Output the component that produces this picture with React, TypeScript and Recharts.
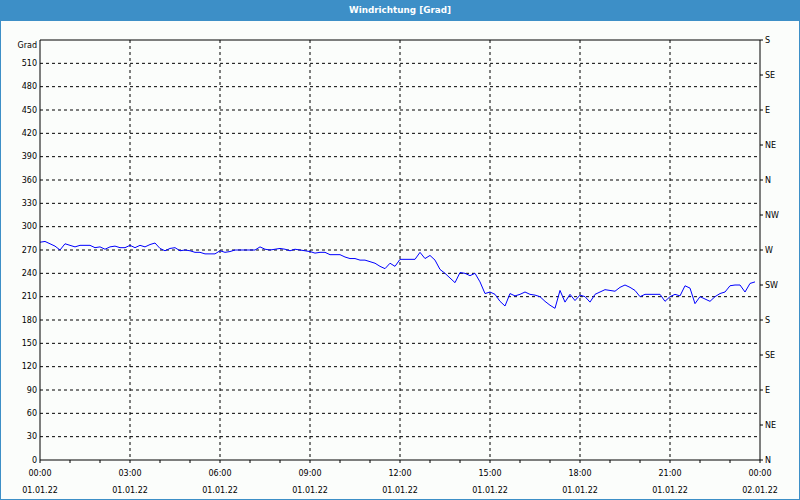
import React from "react";
import { CartesianGrid, Line, LineChart, ReferenceLine, XAxis, YAxis } from "recharts";

// Windrichtung, 10-Minuten-Werte ab 01.01.22 00:00
const windDirection = [
  280, 281, 278, 275, 270, 278, 276, 274, 276, 276, 276, 273, 274, 271, 274, 275, 273, 273, 276, 273, 276, 274, 277, 279,
  272, 269, 272, 273, 269, 270, 269, 267, 267, 265, 265, 265, 269, 267, 268, 270, 270, 270, 270, 270, 274, 271, 270, 271,
  272, 271, 269, 271, 270, 269, 268, 266, 267, 267, 264, 264, 264, 261, 259, 259, 257, 257, 255, 253, 249, 246, 253, 249,
  258, 258, 258, 258, 267, 259, 263, 257, 245, 240, 234, 228, 241, 240, 237, 240, 229, 214, 216, 213, 204, 198, 214, 211,
  213, 216, 213, 212, 210, 204, 199, 195, 218, 203, 213, 205, 212, 210, 203, 213, 216, 219, 218, 217, 222, 225, 222, 218,
  210, 213, 213, 213, 213, 204, 210, 213, 211, 224, 221, 201, 210, 207, 204, 210, 214, 216, 224, 225, 225, 216, 227, 229,
];
const stepMinutes = 10;

const gradTicks = [0, 30, 60, 90, 120, 150, 180, 210, 240, 270, 300, 330, 360, 390, 420, 450, 480, 510, 540];
const dirTicks = [0, 45, 90, 135, 180, 225, 270, 315, 360, 405, 450, 495, 540];
const dirLabels = ["N", "NE", "E", "SE", "S", "SW", "W", "NW", "N", "NE", "E", "SE", "S"];

const hourTicks = [0, 1, 2, 3, 4, 5, 6, 7, 8, 9, 10, 11, 12, 13, 14, 15, 16, 17, 18, 19, 20, 21, 22, 23, 24];
const majorHours = [0, 3, 6, 9, 12, 15, 18, 21, 24];
const timeLabels = ["00:00", "03:00", "06:00", "09:00", "12:00", "15:00", "18:00", "21:00", "00:00"];
const dateLabels = ["01.01.22", "01.01.22", "01.01.22", "01.01.22", "01.01.22", "01.01.22", "01.01.22", "01.01.22", "02.01.22"];

const data = windDirection.map((v, i) => ({ h: (i * stepMinutes) / 60, v }));

const font = "'DejaVu Sans', sans-serif";
const textStyle = { fontFamily: font, fontSize: 8, fill: "#000" };

function LeftTick({ x, y, payload }: any) {
  const top = payload.value === 540;
  return (
    <text x={x} y={y + (top ? 5 : 0)} textAnchor="end" dominantBaseline="central" style={textStyle}>
      {top ? "Grad" : payload.value}
    </text>
  );
}

function RightTick({ x, y, payload }: any) {
  const idx = dirTicks.indexOf(payload.value);
  return (
    <text x={x} y={y} textAnchor="start" dominantBaseline="central" style={textStyle}>
      {dirLabels[idx]}
    </text>
  );
}

function BottomTick({ x, y, payload }: any) {
  const idx = majorHours.indexOf(payload.value);
  if (idx < 0) return null;
  return (
    <g>
      <text x={x} y={y + 10} textAnchor="middle" dominantBaseline="central" style={textStyle}>
        {timeLabels[idx]}
      </text>
      <text x={x} y={y + 27} textAnchor="middle" dominantBaseline="central" style={textStyle}>
        {dateLabels[idx]}
      </text>
    </g>
  );
}

export default function App() {
  return (
    <div style={{ position: "fixed", left: 0, top: 0, width: 800, height: 500, background: "#fbfdfb" }}>
      <div style={{ position: "absolute", left: 0, top: 0 }}>
        <LineChart width={800} height={500} data={data} margin={{ top: 40, right: 0, bottom: 0, left: 0 }}>
          <CartesianGrid
            stroke="#000"
            strokeDasharray="3 3"
            horizontalValues={gradTicks.slice(1, -1)}
            verticalValues={majorHours.slice(1, -1)}
          />
          <XAxis
            dataKey="h"
            type="number"
            domain={[0, 24]}
            ticks={hourTicks}
            interval={0}
            height={40}
            stroke="#000"
            tickSize={3}
            tickMargin={0}
            tick={<BottomTick />}
          />
          <YAxis
            yAxisId={0}
            type="number"
            domain={[0, 540]}
            ticks={gradTicks}
            interval={0}
            width={40}
            stroke="#000"
            tickLine={false}
            tickSize={0}
            tickMargin={3}
            tick={<LeftTick />}
          />
          <YAxis
            yAxisId="dir"
            orientation="right"
            type="number"
            domain={[0, 540]}
            allowDataOverflow
            ticks={dirTicks}
            interval={0}
            width={40}
            stroke="#000"
            tickSize={3}
            tickMargin={2}
            tick={<RightTick />}
          />
          <ReferenceLine y={540} stroke="#000" strokeWidth={1} />
          {/* same series on the compass axis, invisible, so that axis gets its ticks */}
          <Line
            yAxisId="dir"
            type="linear"
            dataKey="v"
            stroke="none"
            dot={false}
            activeDot={false}
            isAnimationActive={false}
          />
          <Line
            yAxisId={0}
            type="linear"
            dataKey="v"
            stroke="#0000ff"
            strokeWidth={1}
            dot={false}
            isAnimationActive={false}
          />
        </LineChart>
      </div>
      <div
        style={{
          position: "absolute",
          left: 0,
          top: 0,
          width: 800,
          height: 21,
          background: "#3d8fc7",
          color: "#fff",
          fontFamily: font,
          fontWeight: "bold",
          fontSize: 8.8,
          lineHeight: "21px",
          textAlign: "center",
        }}
      >
        Windrichtung [Grad]
      </div>
      <div
        style={{
          position: "absolute",
          left: 0,
          top: 0,
          width: 800,
          height: 500,
          boxSizing: "border-box",
          border: "1px solid #3d8fc7",
          pointerEvents: "none",
        }}
      />
    </div>
  );
}
